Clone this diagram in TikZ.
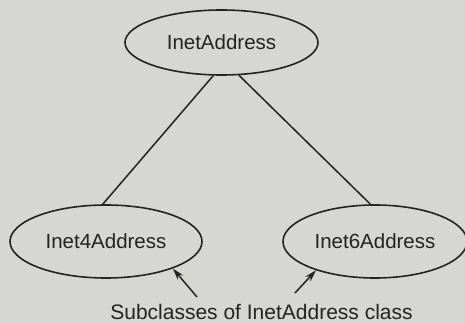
\documentclass[tikz,border=0pt]{standalone}
\usepackage{fontspec}
\setmainfont{Liberation Sans}
\usetikzlibrary{shapes.geometric,arrows.meta}
\definecolor{bg}{RGB}{214,214,211}
\definecolor{ink}{RGB}{35,35,35}
\begin{document}
\begin{tikzpicture}[x=1pt,y=-1pt,
  cls/.style={ellipse,draw=ink,line width=1.6pt,inner sep=0pt,text=ink,font=\fontsize{20.5}{24}\selectfont},
  conn/.style={draw=ink,line width=1.5pt},
  pointer/.style={draw=ink,line width=1.5pt,-{Stealth[length=12pt,width=7pt]}}]
\fill[bg] (0,0) rectangle (465,323);
\useasboundingbox (0,0) rectangle (465,323);
\node[cls,minimum width=193pt,minimum height=65pt] (base) at (221.5,42.5) {InetAddress};
\node[cls,minimum width=192pt,minimum height=73pt] (v4) at (106,241.5) {Inet4Address};
\node[cls,minimum width=184pt,minimum height=73pt] (v6) at (375,241.5) {Inet6Address};
\draw[conn] (base.256) -- (v4.95);
\draw[conn] (base.298) -- (v6.97);
\node[text=ink,font=\fontsize{21}{24}\selectfont] (cap) at (261.5,312) {Subclasses of InetAddress class};
\coordinate (t4) at (197,297);
\coordinate (t6) at (295,293);
\draw[pointer] (t4) -- (v4.338);
\draw[pointer] (t6) -- (v6.206);
\end{tikzpicture}
\end{document}
